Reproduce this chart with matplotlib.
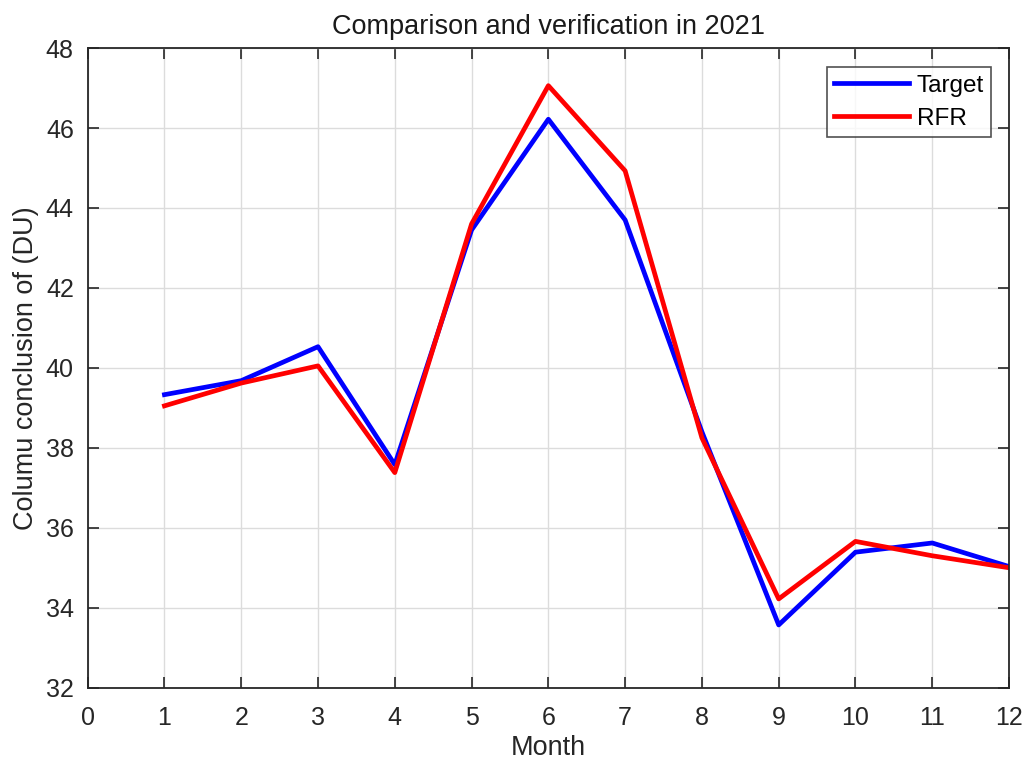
import numpy as np
import matplotlib
matplotlib.use("Agg")
import matplotlib.pyplot as plt

# 月份与两条曲线的数值
month = np.arange(1, 13)
target = [39.33, 39.68, 40.53, 37.58, 43.45, 46.22, 43.70, 38.40, 33.57, 35.39, 35.62, 35.03]
rfr = [39.05, 39.62, 40.05, 37.38, 43.60, 47.06, 44.93, 38.25, 34.22, 35.66, 35.30, 35.00]
xticks = list(range(0, 13))
yticks = list(range(32, 49, 2))

plt.rcParams['font.family'] = ['Liberation Sans', 'DejaVu Sans']

fig = plt.figure(figsize=(10.29, 7.63), dpi=100)
ax = fig.add_axes([0.0852, 0.0987, 0.8954, 0.8383])

ax.plot(month, target, color='#0000ff', lw=3.4, label='Target')
ax.plot(month, rfr, color='#ff0000', lw=3.4, label='RFR')

ax.set_xlim(0, 12)
ax.set_ylim(32, 48)
ax.set_xticks(xticks)
ax.set_yticks(yticks)
ax.grid(True, color='#dcdcdc', lw=1.0)
ax.tick_params(direction='in', top=True, right=True, length=8, width=1.2,
               labelsize=18, colors='#262626')
ax.tick_params(axis='x', pad=13)
ax.tick_params(axis='y', pad=10)
for s in ax.spines.values():
    s.set_linewidth(1.3)
    s.set_color('#262626')

ax.set_title('Comparison and verification in 2021', fontsize=19.5, color='#1a1a1a', pad=10)
ax.set_xlabel('Month', fontsize=19.5, color='#262626', labelpad=4)
ax.set_ylabel('Columu conclusion of (DU)', fontsize=19.5, color='#262626', labelpad=5)

leg = ax.legend(loc='upper right', bbox_to_anchor=(0.9805, 0.970), fontsize=17.5,
                frameon=True, fancybox=False, edgecolor='#262626',
                handlelength=3.1, borderpad=0.3, labelspacing=0.45, handletextpad=0.3,
                borderaxespad=0.0)
leg.get_frame().set_linewidth(1.2)

plt.savefig('out.png', dpi=100)
